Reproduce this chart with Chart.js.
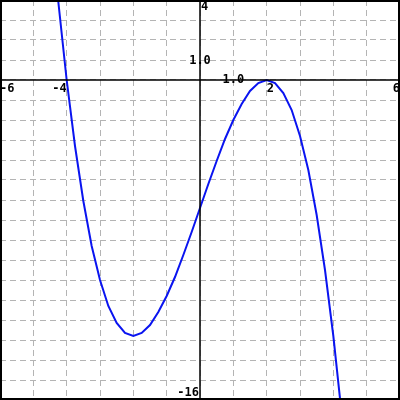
<!DOCTYPE html>
<html>
<head>
<meta charset="utf-8">
<script src="https://cdn.jsdelivr.net/npm/chart.js@4"></script>
<style>
  html, body { margin: 0; padding: 0; background: #fff; }
  #graph { display: block; }
</style>
</head>
<body>
<canvas id="graph" width="400" height="400"></canvas>
<script>
// curve samples
const curveX = [-4.3, -4.25, -4, -3.75, -3.5, -3.25, -3, -2.75, -2.5, -2.25, -2, -1.75, -1.5, -1.25, -1,
    -0.75, -0.5, -0.25, 0, 0.25, 0.5, 0.75, 1, 1.25, 1.5, 1.75, 2, 2.25, 2.5, 2.75, 3, 3.25, 3.5, 3.75, 4, 4.25];
const curveY = [4.8, 3.9, 0, -3.3, -6.05, -8.3, -10, -11.3, -12.15, -12.65, -12.8, -12.65, -12.25, -11.6, -10.8,
    -9.85, -8.75, -7.6, -6.4, -5.2, -4.05, -2.95, -2.0, -1.2, -0.55, -0.15, 0, -0.15, -0.65, -1.5, -2.8, -4.5, -6.75, -9.5, -12.8, -16.7];

const xRange = [-6, 6];
const yRange = [-16, 4];
const xTickLabels = [-6, -4, 2, 6];
const yTickLabels = [4, -16];
const unitLabel = '1.0';

const LABEL_FONT = 'bold 12px "DejaVu Sans Mono", "Liberation Mono", monospace';

const axesPlugin = {
    id: 'axesPlugin',
    afterDatasetsDraw(chart) {
        const { ctx, chartArea, scales } = chart;
        const x0 = scales.x.getPixelForValue(0);
        const y0 = scales.y.getPixelForValue(0);

        ctx.save();
        ctx.strokeStyle = '#000';
        ctx.lineWidth = 1.5;
        ctx.beginPath();
        ctx.moveTo(chartArea.left, y0);
        ctx.lineTo(chartArea.right, y0);
        ctx.moveTo(x0, chartArea.top);
        ctx.lineTo(x0, chartArea.bottom);
        ctx.stroke();

        // frame
        ctx.lineWidth = 2;
        ctx.strokeRect(chartArea.left + 1, chartArea.top + 1,
            chartArea.right - chartArea.left - 2, chartArea.bottom - chartArea.top - 2);

        ctx.fillStyle = '#000';
        ctx.font = LABEL_FONT;

        // x labels under the axis
        ctx.textBaseline = 'top';
        xTickLabels.forEach(v => {
            let px = scales.x.getPixelForValue(v);
            const w = ctx.measureText(String(v)).width;
            if (v < 0) px -= w;
            px = Math.max(chartArea.left, Math.min(chartArea.right - w, px));
            ctx.textAlign = 'left';
            ctx.fillText(String(v), px, y0 + 3);
        });

        // y labels next to the axis
        yTickLabels.forEach(v => {
            const py = scales.y.getPixelForValue(v);
            if (v > 0) {
                ctx.textAlign = 'left';
                ctx.textBaseline = 'top';
                ctx.fillText(String(v), x0 + 1, Math.max(chartArea.top + 1, py));
            } else {
                ctx.textAlign = 'right';
                ctx.textBaseline = 'bottom';
                ctx.fillText(String(v), x0 - 1, Math.min(chartArea.bottom - 1, py));
            }
        });

        // unit markers
        ctx.textAlign = 'center';
        ctx.textBaseline = 'middle';
        ctx.fillText(unitLabel, x0, scales.y.getPixelForValue(1) + 1);
        ctx.fillText(unitLabel, scales.x.getPixelForValue(1), y0);
        ctx.restore();
    }
};

function fitZero(scale) {
    if (scale.isHorizontal()) scale.height = 0;
    else scale.width = 0;
}

const gridOpts = {
    color: '#b4b4b4',
    lineWidth: 1,
    drawTicks: false
};

new Chart(document.getElementById('graph'), {
    type: 'scatter',
    data: {
        datasets: [{
            data: curveX.map((x, i) => ({ x, y: curveY[i] })),
            showLine: true,
            borderColor: '#0a14f0',
            borderWidth: 2,
            pointRadius: 0,
            tension: 0
        }]
    },
    options: {
        responsive: false,
        animation: false,
        layout: { padding: 0 },
        plugins: {
            legend: { display: false },
            tooltip: { enabled: false }
        },
        scales: {
            x: {
                type: 'linear',
                min: xRange[0],
                max: xRange[1],
                ticks: { display: false, stepSize: 1 },
                grid: gridOpts,
                border: { display: false, dash: [6, 4] },
                afterFit: fitZero
            },
            y: {
                type: 'linear',
                min: yRange[0],
                max: yRange[1],
                ticks: { display: false, stepSize: 1 },
                grid: gridOpts,
                border: { display: false, dash: [6, 4] },
                afterFit: fitZero
            }
        }
    },
    plugins: [axesPlugin]
});
</script>
</body>
</html>
